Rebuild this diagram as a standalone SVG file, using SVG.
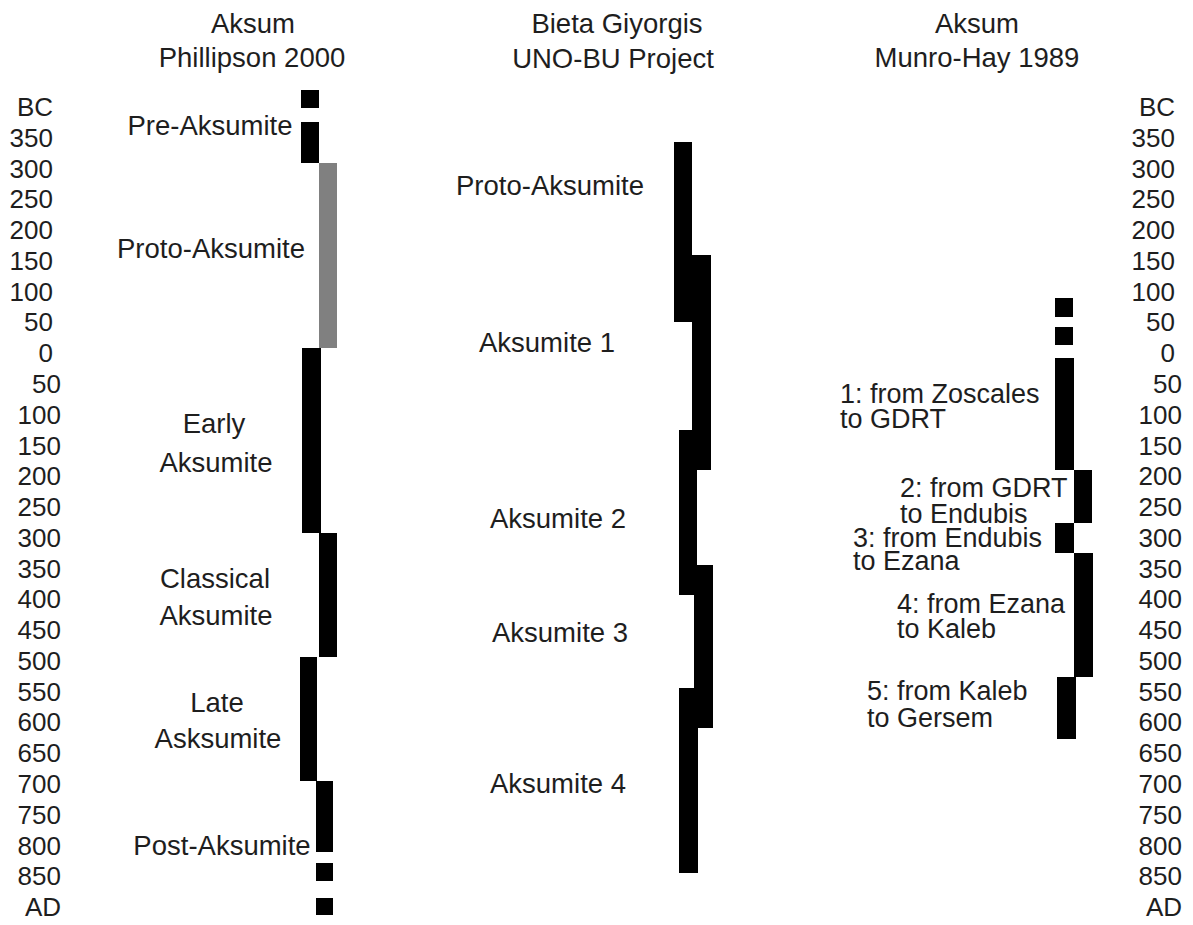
<svg xmlns="http://www.w3.org/2000/svg" width="1193" height="925" viewBox="0 0 1193 925">
<style>
text{font-family:"Liberation Sans",Arial,sans-serif;fill:#1e1e1e}
.ax{font-size:26px;text-anchor:end}
.lb{font-size:27.5px;text-anchor:middle}
.rl{font-size:27px;text-anchor:start}
.bk{fill:#000}
.gr{fill:#808080}
</style>
<rect width="1193" height="925" fill="#fff"/>
<g id="axis-left" class="ax">
<text x="53" y="116">BC</text>
<text x="53" y="146.8">350</text>
<text x="53" y="177.5">300</text>
<text x="53" y="208.3">250</text>
<text x="53" y="239.1">200</text>
<text x="53" y="269.8">150</text>
<text x="53" y="300.6">100</text>
<text x="53" y="331.4">50</text>
<text x="53" y="362.2">0</text>
<text x="61" y="392.9">50</text>
<text x="61" y="423.7">100</text>
<text x="61" y="454.5">150</text>
<text x="61" y="485.2">200</text>
<text x="61" y="516">250</text>
<text x="61" y="546.8">300</text>
<text x="61" y="577.5">350</text>
<text x="61" y="608.3">400</text>
<text x="61" y="639.1">450</text>
<text x="61" y="669.8">500</text>
<text x="61" y="700.6">550</text>
<text x="61" y="731.4">600</text>
<text x="61" y="762.2">650</text>
<text x="61" y="792.9">700</text>
<text x="61" y="823.7">750</text>
<text x="61" y="854.5">800</text>
<text x="61" y="885.2">850</text>
<text x="61" y="916">AD</text>
</g>
<g id="axis-right" class="ax">
<text x="1175" y="116">BC</text>
<text x="1175" y="146.8">350</text>
<text x="1175" y="177.5">300</text>
<text x="1175" y="208.3">250</text>
<text x="1175" y="239.1">200</text>
<text x="1175" y="269.8">150</text>
<text x="1175" y="300.6">100</text>
<text x="1175" y="331.4">50</text>
<text x="1175" y="362.2">0</text>
<text x="1182" y="392.9">50</text>
<text x="1182" y="423.7">100</text>
<text x="1182" y="454.5">150</text>
<text x="1182" y="485.2">200</text>
<text x="1182" y="516">250</text>
<text x="1182" y="546.8">300</text>
<text x="1182" y="577.5">350</text>
<text x="1182" y="608.3">400</text>
<text x="1182" y="639.1">450</text>
<text x="1182" y="669.8">500</text>
<text x="1182" y="700.6">550</text>
<text x="1182" y="731.4">600</text>
<text x="1182" y="762.2">650</text>
<text x="1182" y="792.9">700</text>
<text x="1182" y="823.7">750</text>
<text x="1182" y="854.5">800</text>
<text x="1182" y="885.2">850</text>
<text x="1182" y="916">AD</text>
</g>
<g id="col-phillipson">
<text class="lb" x="253" y="33">Aksum</text>
<text class="lb" x="252" y="67">Phillipson 2000</text>
<rect class="bk" x="301" y="90" width="18" height="18"/>
<rect class="bk" x="301" y="122" width="18" height="41"/>
<rect class="gr" x="319" y="163" width="18" height="185"/>
<rect class="bk" x="302" y="348" width="19" height="185"/>
<rect class="bk" x="319" y="533" width="18" height="124"/>
<rect class="bk" x="300" y="657" width="17" height="124"/>
<rect class="bk" x="316" y="781" width="17" height="71"/>
<rect class="bk" x="316" y="863" width="17" height="18"/>
<rect class="bk" x="316" y="898" width="17" height="17"/>
<text class="lb" x="210" y="135">Pre-Aksumite</text>
<text class="lb" x="211" y="258">Proto-Aksumite</text>
<text class="lb" x="214" y="433">Early</text>
<text class="lb" x="216" y="472">Aksumite</text>
<text class="lb" x="215" y="588">Classical</text>
<text class="lb" x="216" y="625">Aksumite</text>
<text class="lb" x="217" y="712">Late</text>
<text class="lb" x="218" y="748">Asksumite</text>
<text class="lb" x="222" y="855">Post-Aksumite</text>
</g>
<g id="col-bieta">
<text class="lb" x="617" y="33">Bieta Giyorgis</text>
<text class="lb" x="613" y="68">UNO-BU Project</text>
<rect class="bk" x="674" y="142" width="18" height="180"/>
<rect class="bk" x="692" y="255" width="19" height="215"/>
<rect class="bk" x="679" y="430" width="18" height="165"/>
<rect class="bk" x="694" y="565" width="19" height="163"/>
<rect class="bk" x="679" y="688" width="19" height="185"/>
<text class="lb" x="550" y="195">Proto-Aksumite</text>
<text class="lb" x="547" y="352">Aksumite 1</text>
<text class="lb" x="558" y="528">Aksumite 2</text>
<text class="lb" x="560" y="642">Aksumite 3</text>
<text class="lb" x="558" y="793">Aksumite 4</text>
</g>
<g id="col-munrohay">
<text class="lb" x="977" y="33">Aksum</text>
<text class="lb" x="977" y="67">Munro-Hay 1989</text>
<rect class="bk" x="1055" y="298" width="18" height="19"/>
<rect class="bk" x="1055" y="327" width="18" height="18"/>
<rect class="bk" x="1055" y="358" width="19" height="112"/>
<rect class="bk" x="1074" y="470" width="18" height="53"/>
<rect class="bk" x="1055" y="523" width="19" height="30"/>
<rect class="bk" x="1074" y="553" width="19" height="124"/>
<rect class="bk" x="1057" y="677" width="19" height="62"/>
<text class="rl" x="840" y="403">1: from Zoscales</text>
<text class="rl" x="840" y="428">to GDRT</text>
<text class="rl" x="900" y="497">2: from GDRT</text>
<text class="rl" x="900" y="523">to Endubis</text>
<text class="rl" x="853" y="547">3: from Endubis</text>
<text class="rl" x="853" y="570">to Ezana</text>
<text class="rl" x="897" y="613">4: from Ezana</text>
<text class="rl" x="897" y="638">to Kaleb</text>
<text class="rl" x="867" y="700">5: from Kaleb</text>
<text class="rl" x="867" y="727">to Gersem</text>
</g>
</svg>
